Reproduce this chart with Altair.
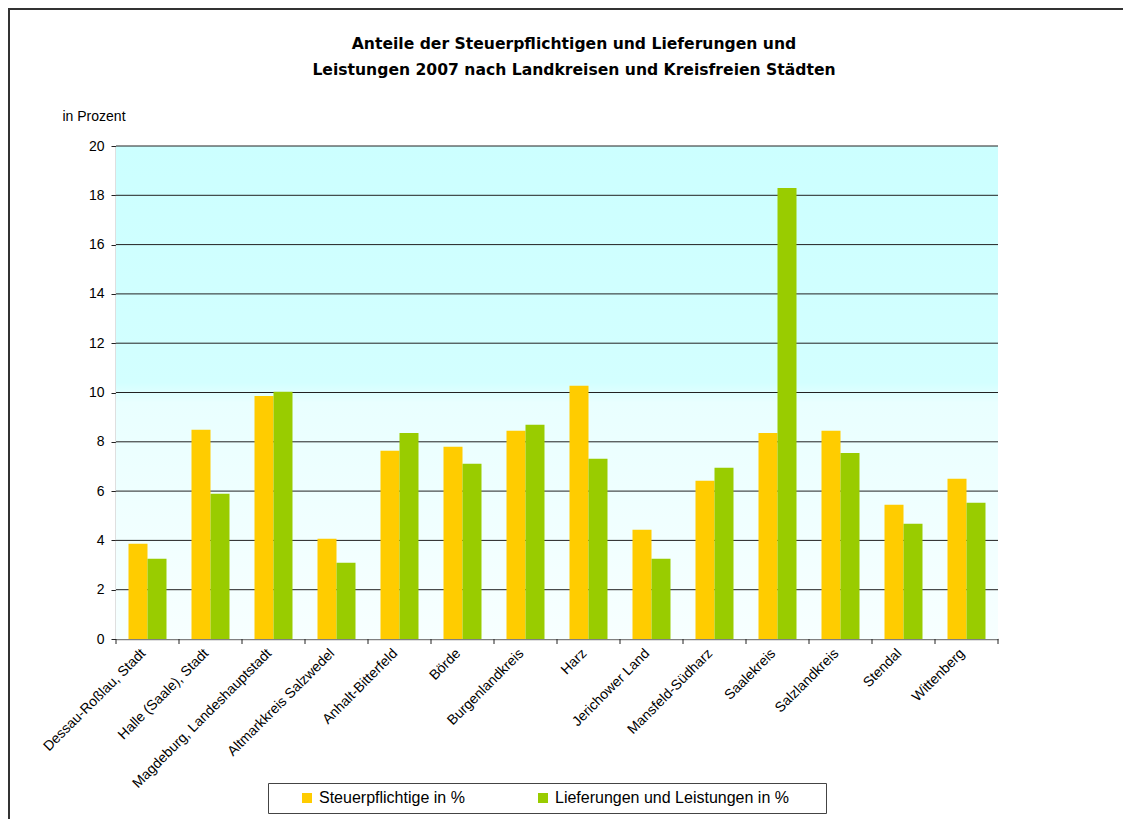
import altair as alt
import pandas as pd

categories = [
    "Dessau-Roßlau, Stadt", "Halle (Saale), Stadt", "Magdeburg, Landeshauptstadt",
    "Altmarkkreis Salzwedel", "Anhalt-Bitterfeld", "Börde", "Burgenlandkreis",
    "Harz", "Jerichower Land", "Mansfeld-Südharz", "Saalekreis", "Salzlandkreis",
    "Stendal", "Wittenberg",
]
steuerpflichtige = [3.86, 8.49, 9.86, 4.07, 7.64, 7.80, 8.45, 10.27, 4.43, 6.42, 8.36, 8.45, 5.45, 6.50]
lieferungen = [3.26, 5.89, 10.03, 3.09, 8.36, 7.11, 8.69, 7.31, 3.26, 6.95, 18.30, 7.55, 4.68, 5.53]
series_names = ["Steuerpflichtige in %", "Lieferungen und Leistungen in %"]
series_colors = ["#FFCC00", "#99CC00"]
y_ticks = [0, 2, 4, 6, 8, 10, 12, 14, 16, 18, 20]

W, H = 882, 493
FONT = "Liberation Sans"
NBSP = "\u00a0"
BLANK = "\u2800"

rows = []
for c, a, b in zip(categories, steuerpflichtige, lieferungen):
    rows.append({"cat": c, "series": series_names[0], "value": a})
    rows.append({"cat": c, "series": series_names[1], "value": b})
df = pd.DataFrame(rows)
df_cats = pd.DataFrame({"cat": categories})
df_last = pd.DataFrame({"cat": categories[-1:]})
df_grid = pd.DataFrame({"v": y_ticks})
df_one = pd.DataFrame({"a": [0]})

xscale = alt.Scale(domain=categories, paddingInner=0, paddingOuter=0)
yscale = alt.Scale(domain=[0, 20], nice=False, zero=True)

bg = alt.Chart(df_one).mark_rect(
    fill=alt.Gradient(
        gradient="linear", x1=0, x2=0, y1=0, y2=1,
        stops=[
            alt.GradientStop(color="#CCFFFF", offset=0),
            alt.GradientStop(color="#D3FFFF", offset=0.48),
            alt.GradientStop(color="#E9FFFF", offset=0.52),
            alt.GradientStop(color="#F7FFFF", offset=1),
        ],
    )
).encode(x=alt.value(0), x2=alt.value(W), y=alt.value(0), y2=alt.value(H))

grid = alt.Chart(df_grid).transform_filter("datum.v > 0").mark_rule(
    color="#222222", strokeWidth=1
).encode(
    y=alt.Y("v:Q", scale=yscale),
    x=alt.value(0), x2=alt.value(W),
)

label_expr = ("datum.label + (indexof(datum.label, 'Lieferungen') >= 0 ? '"
              + NBSP * 4 + BLANK + "' : '')")

bars = alt.Chart(df).mark_bar().encode(
    x=alt.X("cat:N", scale=xscale, sort=categories, title=None,
            axis=alt.Axis(labelAngle=-45, labelAlign="right", labelBaseline="middle",
                          labelPadding=12, labelOffset=-4, ticks=False,
                          domainColor="#808080", domainWidth=1.5,
                          labelFont=FONT, labelFontSize=14,
                          labelColor="#000000", labelLimit=400)),
    xOffset=alt.XOffset("series:N", sort=series_names,
                        scale=alt.Scale(domain=series_names, paddingInner=0, paddingOuter=0.658)),
    y=alt.Y("value:Q", scale=yscale,
            axis=alt.Axis(values=y_ticks, grid=False, tickSize=5, tickColor="#222222",
                          domainColor="#808080", domainWidth=1.5, labelPadding=7,
                          labelFont=FONT, labelFontSize=14, labelColor="#000000",
                          title="in Prozent", titleAngle=0, titleAlign="left",
                          titleBaseline="middle", titleX=-54, titleY=-30,
                          titleFont=FONT, titleFontSize=14, titleFontWeight="normal",
                          titleColor="#000000")),
    color=alt.Color("series:N", sort=series_names,
                    scale=alt.Scale(domain=series_names, range=series_colors),
                    legend=alt.Legend(
                        title=NBSP, titleOrient="left", titlePadding=24,
                        titleFont=FONT, titleFontSize=16,
                        orient="none", direction="horizontal", columns=2,
                        legendX=152, legendY=637, padding=7,
                        strokeColor="#444444", fillColor="#FFFFFF",
                        symbolType="square", symbolSize=100, symbolStrokeWidth=0,
                        labelOffset=4, columnPadding=70, labelLimit=400,
                        labelExpr=label_expr,
                        labelFont=FONT, labelFontSize=16, labelColor="#000000")),
)

ticks = alt.Chart(df_cats).mark_rule(color="#222222").encode(
    x=alt.X("cat:N", scale=xscale, sort=categories, bandPosition=0),
    y=alt.value(H), y2=alt.value(H + 5),
)
tick_last = alt.Chart(df_last).mark_rule(color="#222222").encode(
    x=alt.X("cat:N", scale=xscale, sort=categories, bandPosition=1),
    y=alt.value(H), y2=alt.value(H + 5),
)

frame_top = alt.Chart(df_one).mark_rule(color="#333333", strokeWidth=2).encode(
    x=alt.value(-108), x2=alt.value(W + 125), y=alt.value(-137), y2=alt.value(-137))
frame_left = alt.Chart(df_one).mark_rule(color="#333333", strokeWidth=2).encode(
    x=alt.value(-107), x2=alt.value(-107), y=alt.value(-138), y2=alt.value(H + 200))

chart = alt.layer(bg, grid, bars, ticks, tick_last, frame_top, frame_left).properties(
    width=W, height=H,
    title=alt.TitleParams(
        text=["Anteile der Steuerpflichtigen und Lieferungen und",
              "Leistungen 2007 nach Landkreisen und Kreisfreien Städten"],
        font="DejaVu Sans", fontSize=15.6, fontWeight="bold", color="#000000",
        anchor="middle", frame="group", dx=17, dy=102, offset=30, lineHeight=26,
    ),
    autosize=alt.AutoSizeParams(type="none"),
    padding={"left": 108, "top": 138, "right": 125, "bottom": 180},
).configure_view(stroke=None).configure_axis(labelFont=FONT)

chart.save("out.html", embed_options={"renderer": "svg", "actions": False})
